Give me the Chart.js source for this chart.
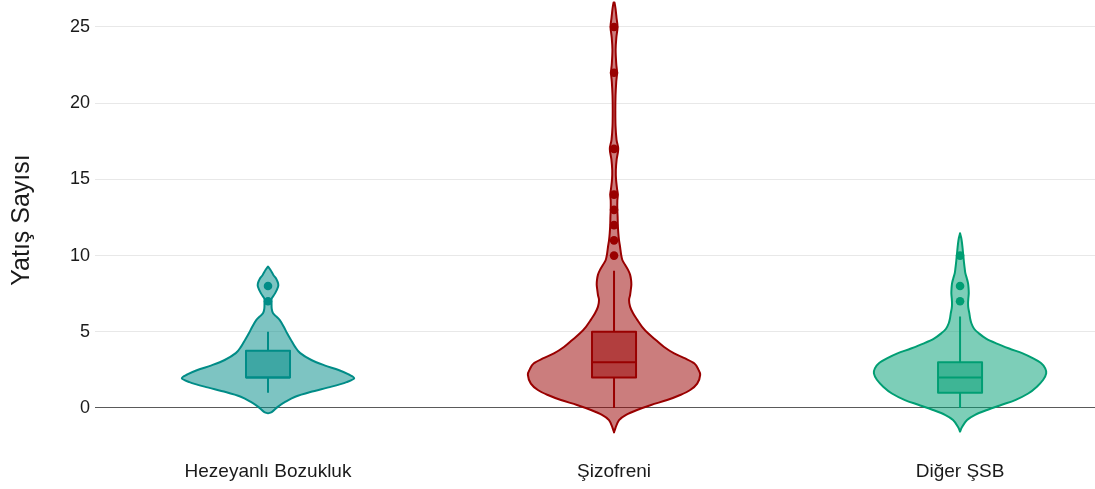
<!DOCTYPE html>
<html lang="tr">
<head>
<meta charset="utf-8">
<title>Yatış Sayısı</title>
<script src="https://cdn.jsdelivr.net/npm/chart.js@4.4.1/dist/chart.umd.min.js"></script>
<style>
  html, body { margin: 0; padding: 0; background: #ffffff; }
  #wrap { width: 1095px; height: 489px; }
</style>
</head>
<body>
<div id="wrap"><canvas id="chart" width="1095" height="489"></canvas></div>
<script>
// Groups on the x axis
const categories = ['Hezeyanlı Bozukluk', 'Şizofreni', 'Diğer ŞSB'];

// Box-plot summary per group
const whiskerLow  = [1, 0, 0];
const quartile1   = [2, 2, 1];
const medians     = [2, 3, 2];
const quartile3   = [3.75, 5, 3];
const whiskerHigh = [5, 9, 6];

// Points beyond the whiskers
const outliersHezeyanli = [7, 8];
const outliersSizofreni = [10, 11, 12, 13, 14, 17, 22, 25];
const outliersDiger     = [7, 8, 10];

// Kernel density outline per group: levels (Yatış Sayısı) and density at each level
const levelsHezeyanli  = [-0.35, -0.25, 0.09, 0.4, 0.74, 1.05, 1.4, 1.7, 1.95, 2.2, 2.49, 2.8, 3.15, 3.6, 4.03, 4.5, 4.9, 5.35, 5.77, 6.0, 6.21, 6.5, 6.87, 7.19, 7.52, 7.96, 8.18, 8.5, 8.73, 9.05, 9.28];
const densityHezeyanli = [0, 4, 10, 17, 27, 42, 63, 78, 85.5, 80, 70, 56, 43, 32, 26.7, 22.5, 19, 15.5, 11.7, 8.3, 5, 3.7, 3.5, 3.7, 7, 10, 10, 8, 5.3, 2.5, 0];

const levelsSizofreni  = [-1.6, -1.3, -0.79, -0.45, -0.13, 0.2, 0.52, 0.85, 1.18, 1.6, 2.17, 2.55, 2.93, 3.25, 3.58, 4.0, 4.46, 4.9, 5.33, 5.8, 6.21, 6.65, 7.09, 7.4, 7.74, 8.1, 8.4, 8.75, 9.06, 9.4, 9.71, 10.1, 10.58, 11.0, 11.46, 12.0, 12.55, 13.0, 13.6, 14.0, 14.4, 15.0, 15.6, 16.3, 17.0, 17.6, 18.5, 19.5, 20.5, 21.4, 22.0, 22.6, 23.5, 24.3, 25.0, 25.6, 26.2, 26.6];
const densitySizofreni = [0, 1.5, 5, 12, 23, 37, 53, 66, 76, 83, 86, 84, 80, 71, 60, 50, 41.7, 34, 28, 23, 19, 16, 15, 16, 16.7, 17.3, 17, 16, 14, 11, 8.3, 7, 6, 5, 4.3, 3.8, 3.6, 3.3, 3.3, 3.8, 3.0, 2.0, 1.8, 2.6, 4.2, 2.5, 1.5, 1.3, 1.5, 2.2, 3.0, 2.2, 1.6, 2.3, 3.5, 2.5, 1.5, 0.5];

const levelsDiger  = [-1.55, -1.25, -0.79, -0.45, -0.13, 0.2, 0.52, 0.95, 1.4, 1.85, 2.27, 2.6, 2.93, 3.25, 3.58, 3.9, 4.24, 4.55, 4.9, 5.2, 5.56, 5.9, 6.21, 6.55, 6.87, 7.2, 7.53, 7.86, 8.18, 8.5, 8.84, 9.17, 9.5, 9.83, 10.15, 10.5, 10.8, 11.15, 11.46];
const densityDiger = [0, 2, 7, 15, 27, 41, 55, 68, 76.7, 83, 86, 85, 81, 73, 62.5, 49, 36, 26, 18.7, 14, 11.3, 10, 9.3, 8.3, 8, 8.3, 8.7, 8.5, 8, 6.8, 5.3, 4.6, 4, 3.5, 3, 2.5, 2, 1.2, 0];

// Y axis ticks
const yTicks = [0, 5, 10, 15, 20, 25];

const groupLevels   = [levelsHezeyanli, levelsSizofreni, levelsDiger];
const groupDensity  = [densityHezeyanli, densitySizofreni, densityDiger];
const groupOutliers = [outliersHezeyanli, outliersSizofreni, outliersDiger];

// Colours per group
const lineRGB = ['0,140,135', '153,0,0', '0,158,115'];

// Geometry in x-axis units (one category = 1 unit)
const VIOLIN_HALF = 0.249;
const BOX_HALF = 0.0636;

function splineThrough(ctx, p) {
  for (let i = 0; i < p.length - 1; i++) {
    const p0 = p[i - 1] || p[i];
    const p1 = p[i];
    const p2 = p[i + 1];
    const p3 = p[i + 2] || p[i + 1];
    ctx.bezierCurveTo(
      p1[0] + (p2[0] - p0[0]) / 6, p1[1] + (p2[1] - p0[1]) / 6,
      p2[0] - (p3[0] - p1[0]) / 6, p2[1] - (p3[1] - p1[1]) / 6,
      p2[0], p2[1]);
  }
}

const violinPlugin = {
  id: 'violins',
  beforeDatasetsDraw(chart) {
    const ctx = chart.ctx;
    const xs = chart.scales.x;
    const ys = chart.scales.y;
    ctx.save();
    categories.forEach((name, i) => {
      const lv = groupLevels[i];
      const dn = groupDensity[i];
      const peak = Math.max(...dn);
      const cx = xs.getPixelForValue(i);
      const right = lv.map((v, k) => [xs.getPixelForValue(i + VIOLIN_HALF * dn[k] / peak), ys.getPixelForValue(v)]);
      const left = lv.map((v, k) => [xs.getPixelForValue(i - VIOLIN_HALF * dn[k] / peak), ys.getPixelForValue(v)]).reverse();

      // violin outline
      ctx.beginPath();
      ctx.moveTo(right[0][0], right[0][1]);
      splineThrough(ctx, right);
      ctx.lineTo(left[0][0], left[0][1]);
      splineThrough(ctx, left);
      ctx.closePath();
      ctx.fillStyle = 'rgba(' + lineRGB[i] + ',0.51)';
      ctx.fill();
      ctx.lineWidth = 2;
      ctx.lineJoin = 'round';
      ctx.strokeStyle = 'rgb(' + lineRGB[i] + ')';
      ctx.stroke();

      // whiskers
      ctx.beginPath();
      ctx.moveTo(cx, ys.getPixelForValue(quartile3[i]));
      ctx.lineTo(cx, ys.getPixelForValue(whiskerHigh[i]));
      ctx.moveTo(cx, ys.getPixelForValue(quartile1[i]));
      ctx.lineTo(cx, ys.getPixelForValue(whiskerLow[i]));
      ctx.stroke();

      // box
      const bx0 = xs.getPixelForValue(i - BOX_HALF);
      const bx1 = xs.getPixelForValue(i + BOX_HALF);
      const by0 = ys.getPixelForValue(quartile3[i]);
      const by1 = ys.getPixelForValue(quartile1[i]);
      ctx.fillStyle = 'rgba(' + lineRGB[i] + ',0.5)';
      ctx.fillRect(bx0, by0, bx1 - bx0, by1 - by0);
      ctx.strokeRect(bx0, by0, bx1 - bx0, by1 - by0);

      // median
      const my = ys.getPixelForValue(medians[i]);
      ctx.beginPath();
      ctx.moveTo(bx0, my);
      ctx.lineTo(bx1, my);
      ctx.stroke();
    });
    ctx.restore();
  }
};

const outlierSets = groupOutliers.map((vals, i) => ({
  type: 'scatter',
  data: vals.map(v => ({ x: i, y: v })),
  pointRadius: 4.3,
  pointHoverRadius: 4.3,
  pointBackgroundColor: 'rgb(' + lineRGB[i] + ')',
  pointBorderWidth: 0,
  showLine: false
}));

new Chart(document.getElementById('chart'), {
  type: 'scatter',
  data: { datasets: outlierSets },
  plugins: [violinPlugin],
  options: {
    responsive: false,
    animation: false,
    devicePixelRatio: 1,
    layout: { padding: 0, autoPadding: false },
    plugins: { legend: { display: false }, tooltip: { enabled: false } },
    scales: {
      x: {
        type: 'linear',
        min: -0.5,
        max: 2.39,
        grid: { display: false, drawTicks: false },
        border: { display: false },
        afterBuildTicks(scale) { scale.ticks = categories.map((c, i) => ({ value: i })); },
        afterFit(scale) { scale.height = 49; scale.paddingLeft = 0; scale.paddingRight = 0; },
        ticks: {
          padding: 20,
          color: '#1a1a1a',
          font: { family: 'Liberation Sans, Arial, sans-serif', size: 19 },
          callback: (v) => categories[v]
        }
      },
      y: {
        type: 'linear',
        min: -2.1,
        max: 26.77,
        afterBuildTicks(scale) { scale.ticks = yTicks.map(v => ({ value: v })); },
        afterFit(scale) { scale.width = 95; scale.paddingTop = 0; scale.paddingBottom = 0; },
        grid: {
          drawTicks: false,
          lineWidth: 1,
          color: (c) => (c.tick && c.tick.value === 0) ? '#5a5a5a' : '#e8e8e8'
        },
        border: { display: false },
        ticks: {
          padding: 5,
          color: '#1a1a1a',
          font: { family: 'Liberation Sans, Arial, sans-serif', size: 18 }
        },
        title: {
          display: true,
          text: 'Yatış Sayısı',
          color: '#1a1a1a',
          padding: { top: 7, bottom: 0 },
          font: { family: 'Liberation Sans, Arial, sans-serif', size: 25 }
        }
      }
    }
  }
});
</script>
</body>
</html>
